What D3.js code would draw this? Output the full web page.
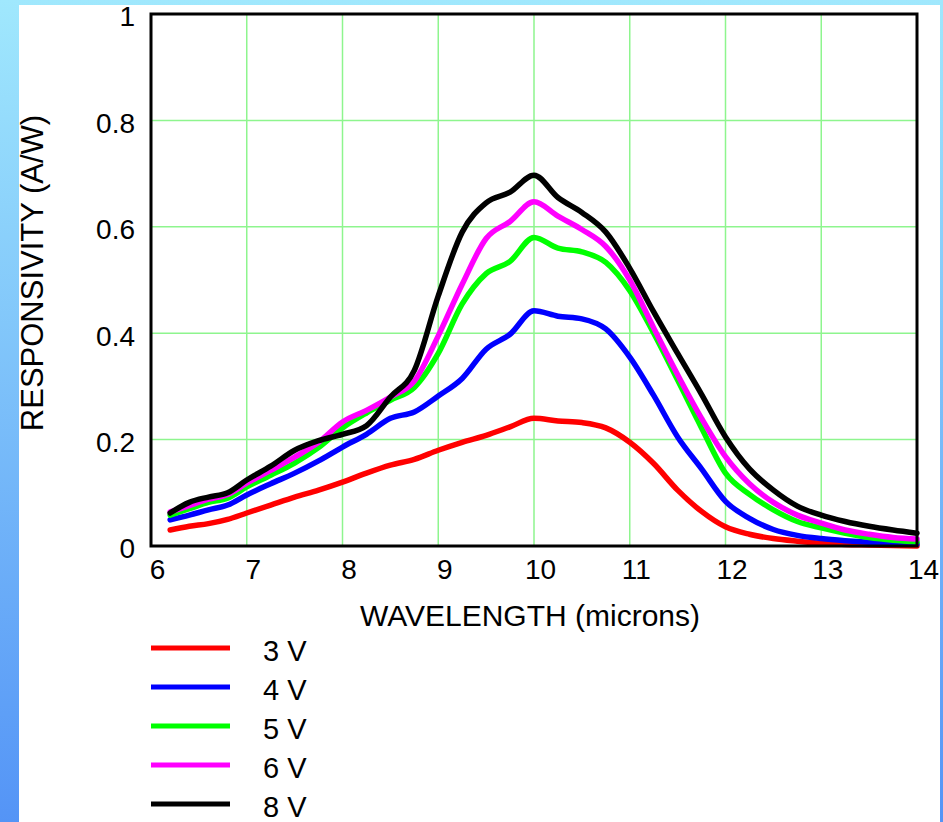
<!DOCTYPE html>
<html>
<head>
<meta charset="utf-8">
<script src="https://cdn.jsdelivr.net/npm/d3@7"></script>
<style>
  html, body { margin: 0; padding: 0; background: #fff; }
  svg { display: block; font-family: "Liberation Sans", Arial, sans-serif; }
</style>
</head>
<body>
<svg id="chart" width="943" height="822"></svg>
<script>
// Wavelength samples (microns)
const wavelength = [6.2, 6.4, 6.6, 6.8, 7.0, 7.25, 7.5, 7.75, 8.0, 8.25, 8.5, 8.75,
  9.0, 9.25, 9.5, 9.75, 10.0, 10.25, 10.5, 10.75, 11.0, 11.25, 11.5, 11.75,
  12.0, 12.25, 12.5, 12.75, 13.0, 13.25, 13.5, 13.75, 14.0];

// Responsivity (A/W) at each bias voltage
const resp3V = [0.030, 0.037, 0.042, 0.050, 0.062, 0.077, 0.092, 0.105, 0.120, 0.137, 0.152, 0.163,
  0.180, 0.195, 0.208, 0.224, 0.240, 0.235, 0.232, 0.222, 0.195, 0.155, 0.105, 0.065,
  0.036, 0.022, 0.014, 0.009, 0.005, 0.003, 0.002, 0.001, 0.000];
const resp4V = [0.049, 0.058, 0.068, 0.077, 0.096, 0.117, 0.137, 0.160, 0.186, 0.210, 0.240, 0.252,
  0.282, 0.315, 0.370, 0.398, 0.442, 0.432, 0.427, 0.408, 0.355, 0.283, 0.205, 0.145,
  0.084, 0.052, 0.031, 0.020, 0.014, 0.010, 0.007, 0.005, 0.004];
const resp5V = [0.058, 0.070, 0.082, 0.090, 0.111, 0.133, 0.156, 0.185, 0.222, 0.250, 0.274, 0.298,
  0.362, 0.455, 0.512, 0.535, 0.580, 0.560, 0.553, 0.533, 0.480, 0.400, 0.312, 0.222,
  0.137, 0.097, 0.068, 0.046, 0.034, 0.024, 0.016, 0.011, 0.008];
const resp6V = [0.064, 0.076, 0.088, 0.097, 0.118, 0.142, 0.167, 0.195, 0.233, 0.255, 0.280, 0.310,
  0.395, 0.492, 0.578, 0.610, 0.647, 0.620, 0.595, 0.563, 0.500, 0.410, 0.322, 0.240,
  0.168, 0.117, 0.082, 0.058, 0.043, 0.030, 0.022, 0.016, 0.013];
const resp8V = [0.062, 0.082, 0.092, 0.100, 0.124, 0.150, 0.180, 0.198, 0.210, 0.226, 0.280, 0.330,
  0.470, 0.590, 0.645, 0.665, 0.697, 0.655, 0.627, 0.590, 0.522, 0.440, 0.362, 0.285,
  0.205, 0.145, 0.105, 0.075, 0.058, 0.046, 0.037, 0.030, 0.024];

const seriesNames = ["3 V", "4 V", "5 V", "6 V", "8 V"];
const seriesColors = ["#ff0000", "#0000ff", "#00ff00", "#ff00ff", "#000000"];
const seriesValues = [resp3V, resp4V, resp5V, resp6V, resp8V];

const xTicks = [6, 7, 8, 9, 10, 11, 12, 13, 14];
const yTicks = [0, 0.2, 0.4, 0.6, 0.8, 1];

const svg = d3.select("#chart");

// Blue gradient frame behind the white panel
const defs = svg.append("defs");
const grad = defs.append("linearGradient").attr("id", "frameGrad")
  .attr("x1", 0).attr("y1", 0).attr("x2", 0).attr("y2", 1);
grad.append("stop").attr("offset", "0%").attr("stop-color", "#a0e8fd");
grad.append("stop").attr("offset", "100%").attr("stop-color", "#5494f6");

svg.append("rect").attr("width", 943).attr("height", 822).attr("fill", "url(#frameGrad)");
svg.append("rect").attr("x", 19).attr("y", 5).attr("width", 921).attr("height", 817).attr("fill", "#fff");

const plot = { left: 151, right: 917, top: 14, bottom: 546 };
const x = d3.scaleLinear().domain([6, 14]).range([plot.left, plot.right]);
const y = d3.scaleLinear().domain([0, 1]).range([plot.bottom, plot.top]);

// Grid
const grid = svg.append("g");
grid.selectAll("line.vx").data(xTicks.slice(1, -1)).join("line")
  .attr("x1", d => x(d)).attr("x2", d => x(d))
  .attr("y1", plot.top).attr("y2", plot.bottom)
  .attr("stroke", "#8ef58e").attr("stroke-width", 1.5);
grid.selectAll("line.hy").data(yTicks.slice(1, -1)).join("line")
  .attr("x1", plot.left).attr("x2", plot.right)
  .attr("y1", d => y(d)).attr("y2", d => y(d))
  .attr("stroke", "#8ef58e").attr("stroke-width", 1.5);

// Curves
const line = d3.line()
  .x((d, i) => x(wavelength[i]))
  .y(d => y(d))
  .curve(d3.curveMonotoneX);

svg.append("g").selectAll("path").data(seriesValues).join("path")
  .attr("d", d => line(d))
  .attr("fill", "none")
  .attr("stroke", (d, i) => seriesColors[i])
  .attr("stroke-width", 5.5)
  .attr("stroke-linejoin", "round")
  .attr("stroke-linecap", "round");

// Frame
svg.append("rect")
  .attr("x", plot.left).attr("y", plot.top)
  .attr("width", plot.right - plot.left).attr("height", plot.bottom - plot.top)
  .attr("fill", "none").attr("stroke", "#000").attr("stroke-width", 3);

// Axes (labels only; the frame is drawn above)
const xAxis = d3.axisBottom(x).tickValues(xTicks).tickSize(0).tickPadding(0).tickFormat(d3.format("d"));
const gx = svg.append("g").attr("transform", `translate(6, ${plot.bottom})`).call(xAxis);
gx.select(".domain").remove();
gx.selectAll("text").attr("font-size", 28).attr("fill", "#000")
  .attr("font-family", "Liberation Sans, Arial, sans-serif")
  .attr("dy", null).attr("y", 33);

const yAxis = d3.axisLeft(y).tickValues(yTicks).tickSize(0).tickPadding(0)
  .tickFormat(d => (d === 0 || d === 1) ? String(d) : d.toFixed(1));
const gy = svg.append("g").attr("transform", `translate(135, 3)`).call(yAxis);
gy.select(".domain").remove();
gy.selectAll("text").attr("font-size", 28).attr("fill", "#000")
  .attr("font-family", "Liberation Sans, Arial, sans-serif");

// Axis titles
svg.append("text")
  .attr("x", 530).attr("y", 626)
  .attr("text-anchor", "middle").attr("font-size", 30)
  .text("WAVELENGTH (microns)");
svg.append("text")
  .attr("transform", "translate(43, 273) rotate(-90)")
  .attr("text-anchor", "middle").attr("font-size", 31)
  .text("RESPONSIVITY (A/W)");

// Legend
const legend = svg.append("g");
const legY = d3.scaleLinear().domain([0, 1]).range([648, 687]);
const items = legend.selectAll("g").data(seriesNames).join("g")
  .attr("transform", (d, i) => `translate(0, ${legY(i)})`);
items.append("line").attr("x1", 151).attr("x2", 230).attr("y1", 0).attr("y2", 0)
  .attr("stroke", (d, i) => seriesColors[i]).attr("stroke-width", 5);
items.append("text").attr("x", 263).attr("y", 13).attr("font-size", 29).text(d => d);

// Right edge of the blue frame sits on top of the panel
svg.append("rect").attr("x", 940).attr("y", 0).attr("width", 3).attr("height", 822).attr("fill", "url(#frameGrad)");
</script>
</body>
</html>
